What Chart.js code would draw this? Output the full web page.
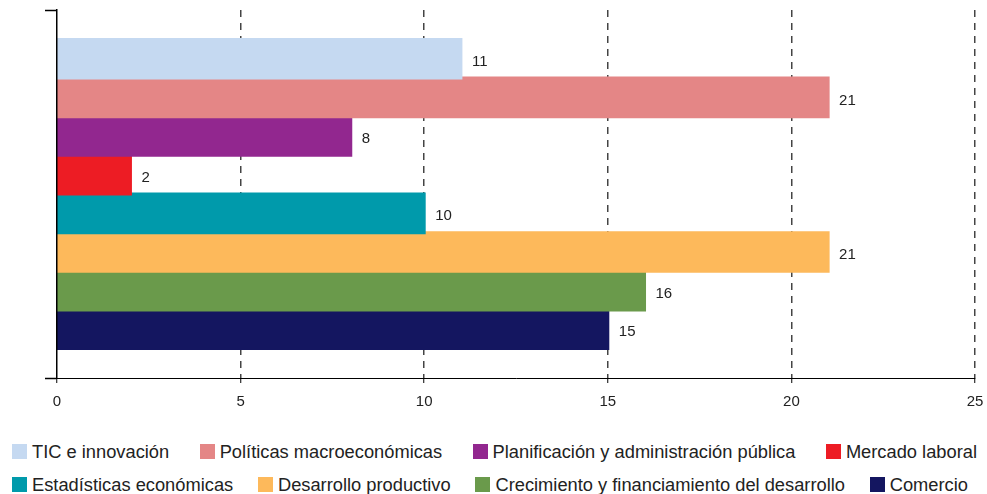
<!DOCTYPE html>
<html>
<head>
<meta charset="utf-8">
<script src="https://cdn.jsdelivr.net/npm/chart.js@4/dist/chart.umd.min.js"></script>
<style>
  html, body { margin: 0; padding: 0; background: #fff; }
  #wrap { position: relative; width: 987px; height: 494px; font-family: "Liberation Sans", Arial, sans-serif; }
  #box { position: absolute; left: 0; top: 0; width: 987px; height: 430px; }
  #legend { position: absolute; left: 12px; top: 435px; }
  .row { display: flex; justify-content: space-between; height: 33px; align-items: center; }
  .item { display: flex; align-items: center; font-size: 18.3px; color: #222; white-space: nowrap; }
  .swatch { width: 15px; height: 15px; margin-right: 5px; }
</style>
</head>
<body>
<div id="wrap">
  <div id="box"><canvas id="myChart"></canvas></div>
  <div id="legend"></div>
</div>
<script>
// Chart data
const categories = ['Áreas'];
const seriesNames = [
  'TIC e innovación',
  'Políticas macroeconómicas',
  'Planificación y administración pública',
  'Mercado laboral',
  'Estadísticas económicas',
  'Desarrollo productivo',
  'Crecimiento y financiamiento del desarrollo',
  'Comercio',
];
const seriesValues = [11, 21, 8, 2, 10, 21, 16, 15];
const xTicks = [0, 5, 10, 15, 20, 25];

const colors = ['#C5D9F1', '#E48686', '#92278F', '#ED1C24', '#009AAB', '#FDB95B', '#6A9A4B', '#141660'];

Chart.defaults.font.family = '"Liberation Sans", Arial, sans-serif';
Chart.defaults.color = '#222';

const ctx = document.getElementById('myChart').getContext('2d');

// Writes the value just right of every bar
const valueLabels = {
  id: 'valueLabels',
  afterDatasetsDraw(chart) {
    const c = chart.ctx;
    c.save();
    c.font = '15px "Liberation Sans", Arial, sans-serif';
    c.fillStyle = '#222';
    c.textBaseline = 'middle';
    c.textAlign = 'left';
    chart.data.datasets.forEach((ds, i) => {
      const meta = chart.getDatasetMeta(i);
      meta.data.forEach((bar, j) => {
        c.fillText(String(ds.data[j]), bar.x + 11, bar.y + 3);
      });
    });
    c.restore();
  },
};

const myChart = new Chart(ctx, {
  type: 'bar',
  data: {
    labels: categories,
    datasets: seriesNames.map((name, i) => ({
      label: name,
      data: [seriesValues[i]],
      backgroundColor: colors[i],
      borderWidth: 0,
      inflateAmount: 1.5,
      categoryPercentage: 0.84,
      barPercentage: 1,
    })),
  },
  options: {
    indexAxis: 'y',
    responsive: true,
    maintainAspectRatio: false,
    animation: false,
    layout: { padding: { left: 45, right: 12, top: 10, bottom: 9 } },
    plugins: {
      legend: { display: false },
      tooltip: { enabled: false },
    },
    scales: {
      x: {
        min: xTicks[0],
        max: xTicks[xTicks.length - 1],
        afterBuildTicks: scale => {
          scale.ticks = xTicks.map(v => ({ value: v }));
        },
        afterFit: scale => {
          scale.paddingRight = 0;
          scale.paddingLeft = 0;
        },
        ticks: { font: { size: 15 }, color: '#222', padding: 10, maxRotation: 0 },
        grid: {
          color: c => (c.tick && c.tick.value === 0 ? 'rgba(0,0,0,0)' : '#444'),
          lineWidth: 1.5,
          tickColor: '#000',
          tickLength: 5,
          tickWidth: 1,
        },
        border: { color: '#000', width: 1, dash: [7, 6] },
      },
      y: {
        ticks: { display: false },
        grid: {
          drawOnChartArea: false,
          tickLength: 12,
          tickColor: '#000',
          tickWidth: 1.5,
        },
        border: { color: '#000', width: 1.5, z: 1 },
      },
    },
  },
  plugins: [valueLabels],
});

// Legend in two rows below the chart
const legend = document.getElementById('legend');
const rows = [seriesNames.slice(0, 4), seriesNames.slice(4)];
const rowWidths = [965, 956];
rows.forEach((names, r) => {
  const row = document.createElement('div');
  row.className = 'row';
  row.style.width = rowWidths[r] + 'px';
  row.innerHTML = names
    .map((name, k) => {
      const i = r * 4 + k;
      return `<div class="item"><span class="swatch" style="background:${colors[i]}"></span>${name}</div>`;
    })
    .join('');
  legend.appendChild(row);
});
</script>
</body>
</html>
